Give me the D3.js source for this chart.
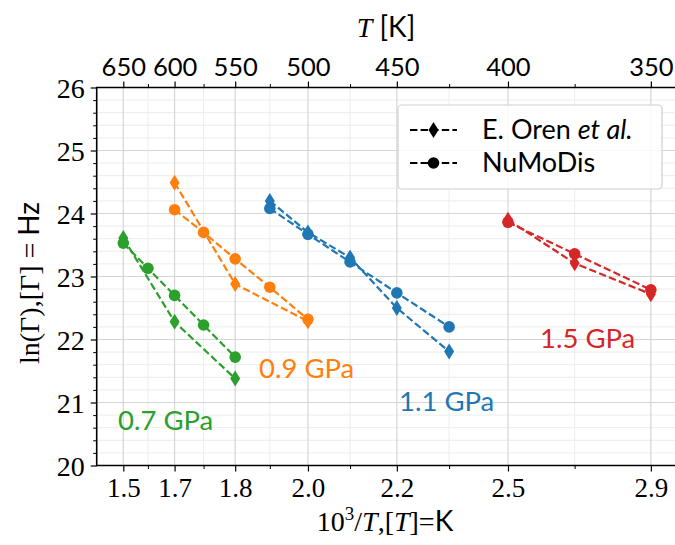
<!DOCTYPE html>
<html><head><meta charset="utf-8">
<script src="https://cdn.jsdelivr.net/npm/d3@7"></script>
<style>
body{margin:0;background:#fff;}
svg{display:block;}
</style></head>
<body>
<svg id="c" width="675" height="545"></svg>
<script>
// ---- data ----
const majorT = [650, 600, 550, 500, 450, 400, 350];
const minorT = [625, 575, 525, 475, 425, 375];
const bottomLabels = ["1.5", "1.7", "1.8", "2.0", "2.2", "2.5", "2.9"];
const topLabels = ["650", "600", "550", "500", "450", "400", "350"];
const yTicks = [20, 21, 22, 23, 24, 25, 26];

const T_07_exp = [650, 600, 550];
const ln_07_exp = [23.61, 22.28, 21.38];
const T_07_sim = [650, 625, 600, 575, 550];
const ln_07_sim = [23.53, 23.13, 22.70, 22.23, 21.72];

const T_09_exp = [600, 550, 500];
const ln_09_exp = [24.49, 22.88, 22.29];
const T_09_sim = [600, 575, 550, 525, 500];
const ln_09_sim = [24.06, 23.70, 23.28, 22.83, 22.32];

const T_11_exp = [525, 500, 475, 450, 425];
const ln_11_exp = [24.20, 23.70, 23.30, 22.50, 21.81];
const T_11_sim = [525, 500, 475, 450, 425];
const ln_11_sim = [24.08, 23.67, 23.23, 22.74, 22.20];

const T_15_exp = [400, 375, 350];
const ln_15_exp = [23.90, 23.21, 22.72];
const T_15_sim = [400, 375, 350];
const ln_15_sim = [23.86, 23.36, 22.79];

const pressureLabels = ["0.7 GPa", "0.9 GPa", "1.1 GPa", "1.5 GPa"];
const colors = ["#2ca02c", "#ff7f0e", "#1f77b4", "#d62728"];

// ---- layout ----
const svg = d3.select("#c");
const L = 96.7, R = 678, TOP = 87.5, BOT = 465.5;
const x = d3.scaleLinear().domain([1.472, 2.925]).range([L, R]);
const y = d3.scaleLinear().domain([20, 26]).range([BOT, TOP]);
const inv = t => 1000 / t;

const serif = "'Liberation Serif','DejaVu Serif',serif";
const sans = "Lato,'Open Sans','DejaVu Sans',sans-serif";

// grid
const grid = svg.append("g");
const yMinor = d3.range(20, 26.001, 0.2).filter(v => Math.abs(v - Math.round(v)) > 0.01);
grid.selectAll(".ymn").data(yMinor).enter().append("line")
  .attr("x1", L).attr("x2", R).attr("y1", d => y(d)).attr("y2", d => y(d))
  .attr("stroke", "#ececec").attr("stroke-width", 1);
grid.selectAll(".xmn").data(minorT).enter().append("line")
  .attr("y1", TOP).attr("y2", BOT).attr("x1", d => x(inv(d))).attr("x2", d => x(inv(d)))
  .attr("stroke", "#ececec").attr("stroke-width", 1);
grid.selectAll(".ymj").data(yTicks).enter().append("line")
  .attr("x1", L).attr("x2", R).attr("y1", d => y(d)).attr("y2", d => y(d))
  .attr("stroke", "#d6d6d6").attr("stroke-width", 1.2);
grid.selectAll(".xmj").data(majorT).enter().append("line")
  .attr("y1", TOP).attr("y2", BOT).attr("x1", d => x(inv(d))).attr("x2", d => x(inv(d)))
  .attr("stroke", "#d6d6d6").attr("stroke-width", 1.2);

// axes
const majorX = majorT.map(inv);
const minorX = minorT.map(inv);
const bottomAxis = d3.axisBottom(x).tickValues(majorX).tickFormat((d, i) => bottomLabels[i]).tickSize(6).tickPadding(6);
const topAxis = d3.axisTop(x).tickValues(majorX).tickFormat((d, i) => topLabels[i]).tickSize(6).tickPadding(6);
const leftAxis = d3.axisLeft(y).tickValues(yTicks).tickFormat(d3.format("d")).tickSize(6).tickPadding(6);

function styleAxis(g, font, size) {
  g.select(".domain").remove();
  g.selectAll("line").attr("stroke", "#000").attr("stroke-width", 1.2);
  g.selectAll("text").attr("font-family", font).attr("font-size", size).attr("fill", "#000");
}
const gb = svg.append("g").attr("transform", `translate(0,${BOT})`).call(bottomAxis);
styleAxis(gb, serif, 27);
const gt = svg.append("g").attr("transform", `translate(0,${TOP})`).call(topAxis);
styleAxis(gt, sans, 25.5);
const gl = svg.append("g").attr("transform", `translate(${L},0)`).call(leftAxis);
styleAxis(gl, serif, 28);
gl.selectAll("text").attr("dy", "0.34em");

// minor ticks
svg.append("g").attr("transform", `translate(0,${BOT})`)
  .call(d3.axisBottom(x).tickValues(minorX).tickFormat("").tickSize(3.5))
  .call(g => { g.select(".domain").remove(); g.selectAll("line").attr("stroke", "#000").attr("stroke-width", 1); });
svg.append("g").attr("transform", `translate(0,${TOP})`)
  .call(d3.axisTop(x).tickValues(minorX).tickFormat("").tickSize(3.5))
  .call(g => { g.select(".domain").remove(); g.selectAll("line").attr("stroke", "#000").attr("stroke-width", 1); });
svg.append("g").attr("transform", `translate(${L},0)`)
  .call(d3.axisLeft(y).tickValues(yMinor).tickFormat("").tickSize(3.5))
  .call(g => { g.select(".domain").remove(); g.selectAll("line").attr("stroke", "#000").attr("stroke-width", 1); });

// spines
svg.append("path").attr("d", `M${R},${TOP}H${L}V${BOT}H${R}`)
  .attr("fill", "none").attr("stroke", "#000").attr("stroke-width", 1.6);

// series
const series = [
  {T: T_07_exp, v: ln_07_exp, c: 0, m: "d"}, {T: T_07_sim, v: ln_07_sim, c: 0, m: "o"},
  {T: T_09_exp, v: ln_09_exp, c: 1, m: "d"}, {T: T_09_sim, v: ln_09_sim, c: 1, m: "o"},
  {T: T_11_exp, v: ln_11_exp, c: 2, m: "d"}, {T: T_11_sim, v: ln_11_sim, c: 2, m: "o"},
  {T: T_15_exp, v: ln_15_exp, c: 3, m: "d"}, {T: T_15_sim, v: ln_15_sim, c: 3, m: "o"}
];
const line = d3.line().x(d => x(d[0])).y(d => y(d[1]));
const diamondPath = "M0,-8L5,0L0,8L-5,0Z";
const plot = svg.append("g");
series.forEach(s => {
  const pts = s.T.map((t, i) => [inv(t), s.v[i]]);
  const col = colors[s.c];
  plot.append("path").datum(pts).attr("d", line)
    .attr("fill", "none").attr("stroke", col).attr("stroke-width", 2.2)
    .attr("stroke-dasharray", "7.4,3.2");
  const g = plot.append("g");
  pts.forEach(p => {
    if (s.m === "o") {
      g.append("circle").attr("cx", x(p[0])).attr("cy", y(p[1])).attr("r", 5.8).attr("fill", col);
    } else {
      g.append("path").attr("d", diamondPath).attr("transform", `translate(${x(p[0])},${y(p[1])})`).attr("fill", col);
    }
  });
});

// pressure labels
const labelPos = [[118, 430], [259, 378], [399, 411], [540, 348]];
pressureLabels.forEach((t, i) => {
  svg.append("text").attr("x", labelPos[i][0]).attr("y", labelPos[i][1])
    .attr("font-family", sans).attr("font-size", 27.5).attr("fill", colors[i]).text(t);
});

// legend
const lg = svg.append("g");
lg.append("rect").attr("x", 398).attr("y", 105).attr("width", 264).attr("height", 84).attr("rx", 4)
  .attr("fill", "#fff").attr("fill-opacity", 0.85).attr("stroke", "#d0d0d0").attr("stroke-width", 1.2);
const legendItems = [{m: "d", y: 130}, {m: "o", y: 163}];
legendItems.forEach(it => {
  lg.append("line").attr("x1", 410).attr("x2", 457).attr("y1", it.y).attr("y2", it.y)
    .attr("stroke", "#000").attr("stroke-width", 2.2).attr("stroke-dasharray", "7.4,3.2");
  if (it.m === "o") lg.append("circle").attr("cx", 433.5).attr("cy", it.y).attr("r", 5.8).attr("fill", "#000");
  else lg.append("path").attr("d", diamondPath).attr("transform", `translate(433.5,${it.y})`).attr("fill", "#000");
});
const t1 = lg.append("text").attr("x", 482).attr("y", 139).attr("font-family", sans).attr("font-size", 27).attr("fill", "#000");
t1.append("tspan").text("E. Oren ");
t1.append("tspan").attr("font-style", "italic").text("et al.");
lg.append("text").attr("x", 482).attr("y", 172).attr("font-family", sans).attr("font-size", 27).attr("fill", "#000").text("NuMoDis");

// axis titles
const tb = svg.append("text").attr("x", 385).attr("y", 531).attr("text-anchor", "middle")
  .attr("font-family", serif).attr("font-size", 28).attr("fill", "#000");
tb.append("tspan").text("10");
tb.append("tspan").attr("font-size", 19).attr("dy", -11).text("3");
tb.append("tspan").attr("dy", 11).text("/");
tb.append("tspan").attr("font-style", "italic").text("T");
tb.append("tspan").text(",[");
tb.append("tspan").attr("font-style", "italic").text("T");
tb.append("tspan").text("]=");
tb.append("tspan").attr("font-family", sans).text("K");

const tt = svg.append("text").attr("x", 386).attr("y", 37).attr("text-anchor", "middle")
  .attr("font-family", sans).attr("font-size", 28).attr("fill", "#000");
tt.append("tspan").attr("font-family", serif).attr("font-style", "italic").text("T");
tt.append("tspan").text(" [K]");

const ty = svg.append("text").attr("transform", "translate(39,283) rotate(-90)").attr("text-anchor", "middle")
  .attr("font-family", serif).attr("font-size", 28).attr("fill", "#000");
ty.append("tspan").text("ln(Γ),[Γ] = ");
ty.append("tspan").attr("font-family", sans).text("Hz");
</script>
</body></html>
